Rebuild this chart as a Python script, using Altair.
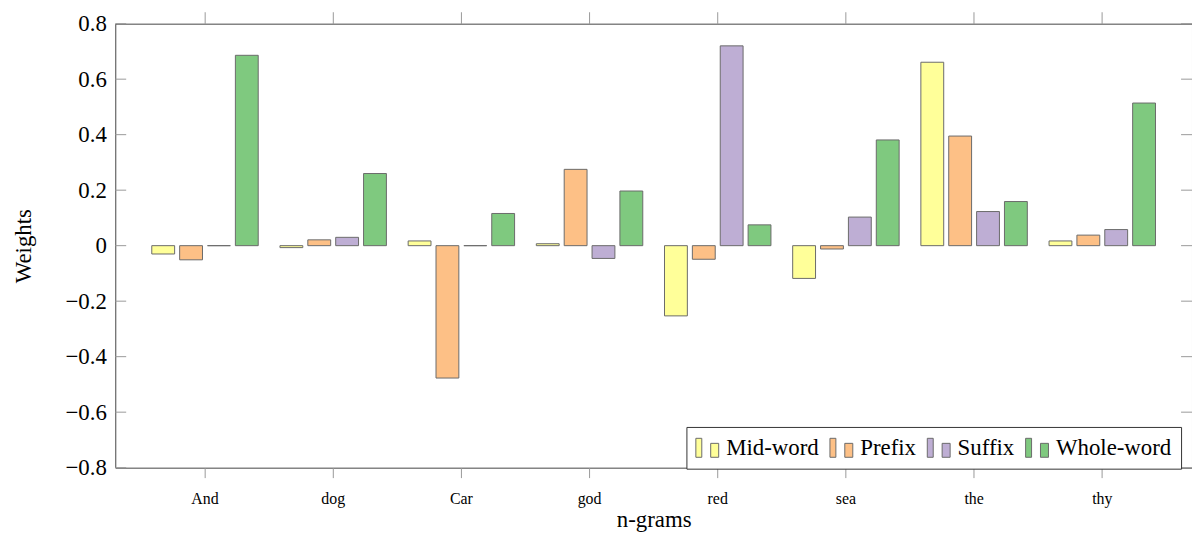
import altair as alt
import pandas as pd

categories = ["And", "dog", "Car", "god", "red", "sea", "the", "thy"]
types = ["Mid-word", "Prefix", "Suffix", "Whole-word"]
colors = ["#ffff99", "#fdc086", "#beaed4", "#7fc97f"]

mid_word = [-0.030, -0.007, 0.017, 0.007, -0.253, -0.118, 0.661, 0.017]
prefix = [-0.051, 0.021, -0.477, 0.275, -0.049, -0.012, 0.395, 0.038]
suffix = [0.0, 0.030, 0.0, -0.046, 0.720, 0.103, 0.123, 0.058]
whole_word = [0.686, 0.260, 0.116, 0.197, 0.075, 0.381, 0.159, 0.514]

y_ticks = [-0.8, -0.6, -0.4, -0.2, 0.0, 0.2, 0.4, 0.6, 0.8]

series = [mid_word, prefix, suffix, whole_word]
rows = []
for t, vals in zip(types, series):
    for c, v in zip(categories, vals):
        rows.append({"ngram": c, "type": t, "value": v})
df = pd.DataFrame(rows)
cat_df = pd.DataFrame({"ngram": categories})
tick_df = pd.DataFrame({"t": y_ticks})

W, H = 1084, 447
FONT = "Liberation Serif"

xscale = alt.Scale(paddingInner=0, paddingOuter=0.2)
yscale = alt.Scale(domain=[-0.8, 0.8], nice=False, zero=False)

legend_path = "M-1,-0.83H-0.48V0.83H-1Z M0.3,-0.39H1V0.83H0.3Z"

bars = alt.Chart(df).mark_bar(stroke="#6b6b6b", strokeWidth=1).encode(
    x=alt.X("ngram:N", sort=categories, scale=xscale, title="n-grams",
            axis=alt.Axis(orient="bottom", domain=False, tickSize=10, tickColor="#999999",
                          labelAngle=0, labelFont=FONT, labelFontSize=16, labelColor="black",
                          labelPadding=13, titleFont=FONT, titleFontSize=23,
                          titleFontWeight="normal", titleColor="black", titlePadding=2)),
    xOffset=alt.XOffset("type:N", sort=types,
                        scale=alt.Scale(paddingInner=0.18, paddingOuter=0.39)),
    y=alt.Y("value:Q", scale=yscale, title="Weights",
            axis=alt.Axis(values=y_ticks, format=".1~f", domain=False, ticks=False,
                          grid=False, labelFont=FONT, labelFontSize=23, labelColor="black",
                          labelPadding=9, titleFont=FONT, titleFontSize=23,
                          titleFontWeight="normal", titleColor="black", titlePadding=30)),
    color=alt.Color("type:N", sort=types, scale=alt.Scale(domain=types, range=colors),
                    legend=alt.Legend(title=None, orient="none", legendX=575, legendY=406,
                                      direction="horizontal", columns=4,
                                      symbolType=legend_path, symbolSize=529,
                                      symbolStrokeColor="#6b6b6b", symbolStrokeWidth=1,
                                      symbolOpacity=1,
                                      labelFont=FONT, labelFontSize=23, labelColor="black",
                                      labelOffset=7, columnPadding=8, labelLimit=300,
                                      padding=9, strokeColor="#333333", fillColor="white")),
)

top_axis = alt.Chart(cat_df).mark_rule(opacity=0).encode(
    x=alt.X("ngram:N", sort=categories, scale=xscale, title=None,
            axis=alt.Axis(orient="top", labels=False, domain=False, tickSize=12,
                          tickColor="#999999")),
)

left_ticks = alt.Chart(tick_df).mark_rule(color="#999999", strokeWidth=1).encode(
    y=alt.Y("t:Q", scale=yscale, axis=None),
    x=alt.value(0), x2=alt.value(11),
)
right_ticks = alt.Chart(tick_df).mark_rule(color="#999999", strokeWidth=1).encode(
    y=alt.Y("t:Q", scale=yscale, axis=None),
    x=alt.value(W - 11), x2=alt.value(W),
)

chart = alt.layer(bars, top_axis, left_ticks, right_ticks).resolve_axis(
    x="independent", y="independent"
).properties(
    width=W, height=H,
    background="white",
    autosize=alt.AutoSizeParams(type="none"),
    padding={"left": 108, "top": 14, "right": 0, "bottom": 64},
).configure_view(
    stroke="#444444", strokeWidth=1
)

chart.save("out.html", embed_options={"renderer": "svg", "actions": False})
